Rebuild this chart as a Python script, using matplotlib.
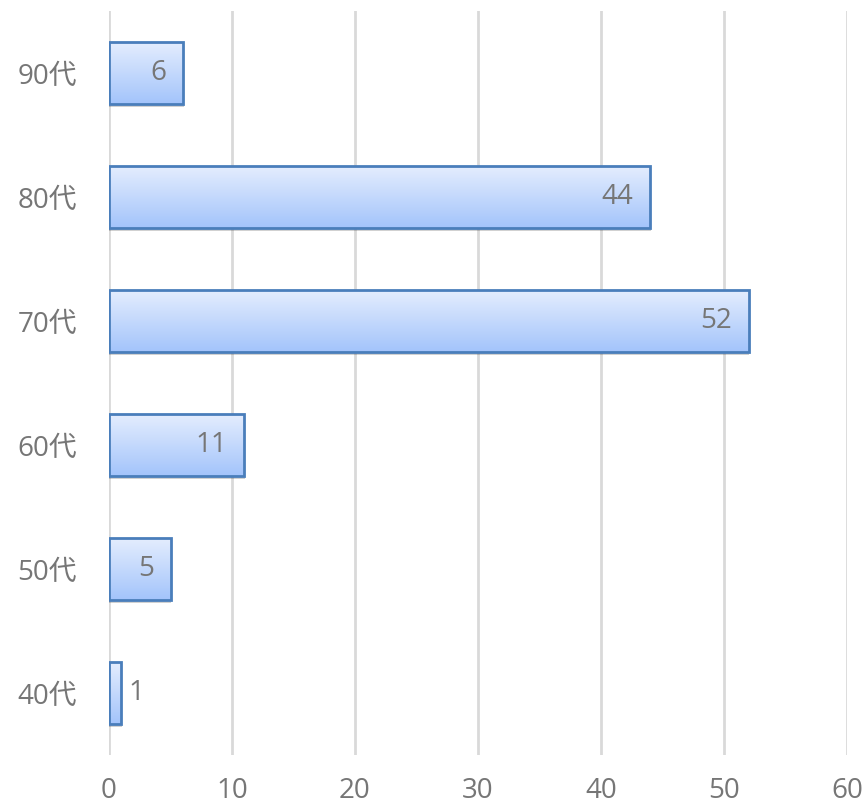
import numpy as np
import matplotlib
matplotlib.use("Agg")
import matplotlib.pyplot as plt
from matplotlib.colors import LinearSegmentedColormap

plt.rcParams['font.family'] = ['Open Sans', 'Noto Sans CJK JP', 'DejaVu Sans']

categories = ['40代', '50代', '60代', '70代', '80代', '90代']
values = [1, 5, 11, 52, 44, 6]
x_ticks = [0, 10, 20, 30, 40, 50, 60]

text_gray = '#767676'
edge_blue = '#4a7ebb'
grad = LinearSegmentedColormap.from_list('barfill', ['#a3c4fb', '#e4edfe'])

fig = plt.figure(figsize=(8.66, 8.06), dpi=100)
ax = fig.add_axes([109 / 866, 51 / 806, 738 / 866, 744 / 806])

ypos = np.arange(len(categories))

# soft drop shadow under each bar
dx = 60 / 738 * 2.5
dy = 6 / 744 * 3
ax.barh(ypos - dy, np.array(values) + dx * 0.3, height=0.5, color='#000000', alpha=0.18,
        linewidth=0, zorder=2)

bars = ax.barh(ypos, values, height=0.5, facecolor='none', edgecolor=edge_blue,
               linewidth=2, zorder=3)

# vertical gradient fill inside each bar
gradient = np.linspace(0, 1, 256).reshape(-1, 1)
for b in bars:
    x0, y0 = b.get_x(), b.get_y()
    w, h = b.get_width(), b.get_height()
    im = ax.imshow(gradient, cmap=grad, aspect='auto', origin='lower',
                   extent=(x0, x0 + w, y0, y0 + h), zorder=2.5, interpolation='bilinear')
    im.set_clip_path(b)

ax.set_xlim(0, 60)
ax.set_ylim(-0.5, len(categories) - 0.5)
ax.set_xticks(x_ticks)
ax.set_yticks(ypos)
ax.set_yticklabels(categories)
ax.tick_params(axis='both', length=0, labelsize=20, colors=text_gray)
ax.tick_params(axis='y', pad=23)
ax.tick_params(axis='x', pad=16)

ax.grid(axis='x', color='#d9d9d9', linewidth=2, zorder=0)
ax.set_axisbelow(True)
for s in ax.spines.values():
    s.set_visible(False)

for y, v in zip(ypos, values):
    if v >= 3:
        ax.annotate(str(v), (v, y), xytext=(-12, 0), textcoords='offset points',
                    ha='right', va='center', fontsize=20, color=text_gray, zorder=5)
    else:
        ax.annotate(str(v), (v, y), xytext=(5, 0), textcoords='offset points',
                    ha='left', va='center', fontsize=20, color=text_gray, zorder=5)

fig.savefig('out.png', dpi=100)
